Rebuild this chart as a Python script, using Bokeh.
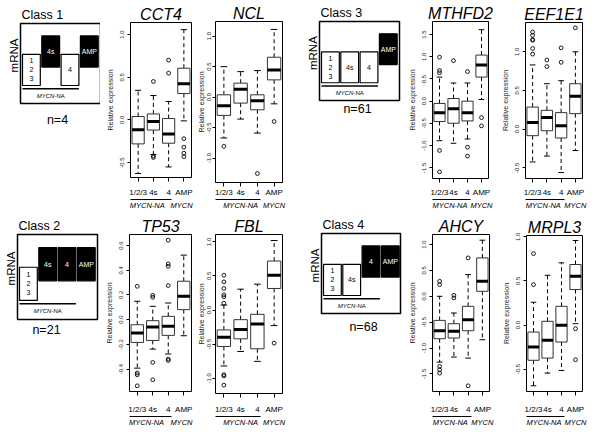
import math
from bokeh.plotting import figure
from bokeh.layouts import row, column
from bokeh.models import Range1d, FixedTicker, PrintfTickFormatter, LinearAxis
from bokeh.core.properties import value
from bokeh.embed import file_html
from bokeh.resources import INLINE

FONT = "Liberation Sans"

# ---------------- data ----------------
GROUPS = ["1/2/3", "4s", "4", "AMP"]
GROUP_X = [1, 2, 3, 4]

CLASS_NAMES = ["Class 1", "Class 2", "Class 3", "Class 4"]
CLASS_N = [4, 21, 61, 68]
CLASS_LEVELS = [[0, 1, 0, 1], [0, 1, 1, 1], [0, 0, 0, 1], [0, 0, 1, 1]]

CCT4_LO = [-0.628, -0.405, -0.551, -0.011]
CCT4_Q1 = [-0.281, -0.119, -0.273, 0.309]
CCT4_MED = [-0.116, -0.019, -0.165, 0.425]
CCT4_Q3 = [0.040, 0.070, 0.016, 0.606]
CCT4_HI = [0.347, 0.286, 0.216, 1.058]
CCT4_OUT = [[], [0.451, -0.425, -0.44], [0.70, 0.548], [-0.22, -0.32, -0.39, -0.43]]

NCL_LO = [-0.67, -0.36, -0.59, -0.11]
NCL_Q1 = [-0.30, -0.098, -0.208, 0.283]
NCL_MED = [-0.142, 0.13, -0.06, 0.446]
NCL_Q3 = [0.038, 0.229, 0.038, 0.654]
NCL_HI = [0.50, 0.418, 0.435, 1.11]
NCL_OUT = [[-0.807], [], [-1.253], [-0.40]]

MTHFD2_LO = [-0.889, -0.947, -0.851, 0.038]
MTHFD2_Q1 = [-0.458, -0.496, -0.444, 0.542]
MTHFD2_MED = [-0.258, -0.169, -0.258, 0.816]
MTHFD2_Q3 = [-0.051, 0.06, 0.0, 1.038]
MTHFD2_HI = [0.542, 0.409, 0.409, 1.609]
MTHFD2_OUT = [[0.99, 0.69, 0.64, -1.11, -1.59], [0.911], [0.667, -1.036, -1.236], [-0.369, -0.556]]

EEF1E1_LO = [-0.425, -0.349, -0.562, -0.277]
EEF1E1_Q1 = [-0.085, -0.021, -0.115, 0.20]
EEF1E1_MED = [0.085, 0.149, 0.043, 0.425]
EEF1E1_Q3 = [0.285, 0.243, 0.213, 0.587]
EEF1E1_HI = [0.83, 0.587, 0.626, 1.0]
EEF1E1_OUT = [[1.255, 1.213, 1.158, 1.149, 1.043, 0.97], [0.894, 0.809], [1.051, 0.864], [1.311]]

TP53_LO = [-0.392, -0.238, -0.278, -0.13]
TP53_Q1 = [-0.184, -0.168, -0.127, 0.081]
TP53_MED = [-0.108, -0.059, -0.054, 0.189]
TP53_Q3 = [-0.041, -0.008, 0.027, 0.311]
TP53_HI = [0.149, 0.108, 0.135, 0.522]
TP53_OUT = [[0.27, -0.432, -0.446, -0.535], [0.197, 0.181, -0.346, -0.486],
            [0.643, 0.451, 0.432, 0.276, -0.319, -0.33], []]

FBL_LO = [-0.82, -0.607, -0.752, -0.228]
FBL_Q1 = [-0.534, -0.422, -0.568, 0.316]
FBL_MED = [-0.398, -0.286, -0.204, 0.51]
FBL_Q3 = [-0.291, -0.141, -0.063, 0.718]
FBL_HI = [0.073, 0.306, 0.379, 1.019]
FBL_OUT = [[0.51, 0.413, 0.316, 0.223, 0.194, 0.10, -0.947, -0.966, -1.10], [], [], [-0.485]]

AHCY_LO = [-1.271, -1.174, -1.194, -0.839]
AHCY_Q1 = [-0.819, -0.806, -0.665, 0.097]
AHCY_MED = [-0.665, -0.677, -0.452, 0.29]
AHCY_Q3 = [-0.465, -0.529, -0.194, 0.742]
AHCY_HI = [0.0, -0.323, 0.419, 1.084]
AHCY_OUT = [[0.29, 0.226, -1.355, -1.419, -1.484], [0.019, -0.032], [0.742, -1.729], []]

MRPL3_LO = [-0.689, -0.545, -0.515, 0.015]
MRPL3_Q1 = [-0.40, -0.375, -0.193, 0.402]
MRPL3_MED = [-0.25, -0.174, -0.004, 0.553]
MRPL3_Q3 = [-0.08, 0.042, 0.212, 0.686]
MRPL3_HI = [0.258, 0.564, 0.705, 0.958]
MRPL3_OUT = [[0.81, 0.458], [], [], [-0.042, -0.394]]

# y axis limits and tick values
CCT4_YLIM = (-0.675, 1.142)
NCL_YLIM = (-1.40, 1.24)
MTHFD2_YLIM = (-1.74, 1.793)
EEF1E1_YLIM = (-0.639, 1.379)
TP53_YLIM = (-0.581, 0.689)
FBL_YLIM = (-1.223, 1.107)
AHCY_YLIM = (-1.839, 1.194)
MRPL3_YLIM = (-0.754, 1.015)

TICKS_A = [-0.5, 0.0, 0.5, 1.0]
TICKS_B = [-1.0, -0.5, 0.0, 0.5, 1.0]
TICKS_C = [-1.5, -1.0, -0.5, 0.0, 0.5, 1.0, 1.5]
TICKS_D = [-0.6, -0.4, -0.2, 0.0, 0.2, 0.4, 0.6]
TICKS_E = [-1.5, -1.0, -0.5, 0.0, 0.5, 1.0]

# ---------------- layout (page pixel coordinates) ----------------
TOP_ROW = dict(top=0, bottom=212, l1=193.5)
BOT_ROW = dict(top=212, bottom=430, l1=408.5)
NA_NARROW, NA_MID, NA_WIDE = 1.6, 1.75, 2.0


def styled(fig):
    fig.grid.visible = False
    fig.outline_line_color = None
    fig.background_fill_color = "white"
    fig.border_fill_color = "white"
    return fig


def txt(fig, x, y, s, size, align="center", color="black", style="normal",
        angle=0.0, baseline="middle", x_offset=0):
    fig.text(x=[x], y=[y], text=[s], text_font=value(FONT), text_font_size=size,
             text_align=align, text_baseline=baseline, text_color=color,
             text_font_style=style, angle=angle, x_offset=x_offset)


def diagram(idx, fx0, fx1, rowg, box, n_pos):
    bx, by, bw, bh = box
    d = figure(width=fx1 - fx0, height=rowg["bottom"] - rowg["top"],
               x_range=Range1d(fx0, fx1), y_range=Range1d(rowg["bottom"], rowg["top"]),
               x_axis_location=None, y_axis_location=None, toolbar_location=None,
               output_backend="svg", min_border_left=0, min_border_right=0,
               min_border_top=0, min_border_bottom=0)
    styled(d)
    txt(d, bx + 1, by - 9, CLASS_NAMES[idx], "12.5px", align="left")
    txt(d, bx - 7, by + bh * 0.4, "mRNA", "11.5px", angle=math.pi / 2)
    d.quad(left=[bx], right=[bx + bw], top=[by], bottom=[by + bh],
           fill_color=None, line_color="black", line_width=1.5)
    pitch, bwid = 19.3, 17.8
    for i, lev in enumerate(CLASS_LEVELS[idx]):
        left = bx + 2 + i * pitch
        top = by + (0.155 if lev else 0.385) * bh
        bot = top + 0.39 * bh
        d.quad(left=[left], right=[left + bwid], top=[top], bottom=[bot],
               fill_color="black" if lev else "white", line_color="black", line_width=1.2)
        tc = "#ffffff" if lev else "#000000"
        cx, cy = left + bwid / 2, (top + bot) / 2
        parts = GROUPS[i].split("/")
        if len(parts) > 1:
            for k, s in enumerate(parts):
                txt(d, cx, cy + (k - 1) * 9, s, "7px", color=tc)
        else:
            txt(d, cx, cy, GROUPS[i], "7px", color=tc)
    lx0 = bx + 2
    lx1 = bx + 2 + 2 * pitch + bwid
    ly = by + 0.815 * bh
    d.segment(x0=[lx0], x1=[lx1], y0=[ly], y1=[ly], line_color="black", line_width=1.5)
    mx = (lx0 + lx1) / 2
    txt(d, mx, by + 0.9 * bh, "MYCN", "6px", align="right", style="italic", x_offset=3.7)
    txt(d, mx, by + 0.9 * bh, "-NA", "6px", align="left", x_offset=3.7)
    txt(d, n_pos[0], n_pos[1], "n=%d" % CLASS_N[idx], "12.5px")
    return column(d, spacing=0)


def add_x_axes(p, ppu, fb, rowg, na_c, amp_x):
    # 1) ticks and group labels
    std = max(0, int(round(rowg["l1"] - fb - 4 - 4.5)))
    a1 = LinearAxis(ticker=FixedTicker(ticks=GROUP_X),
                    major_label_overrides=dict(zip(GROUP_X, GROUPS)))
    a1.axis_line_color = None
    a1.major_tick_out = 4
    a1.major_tick_in = 0
    a1.minor_tick_line_color = None
    a1.major_label_standoff = std
    a1.major_label_text_font = FONT
    a1.major_label_text_font_size = "8px"
    a1.major_label_text_color = "black"
    p.add_layout(a1, "below")
    # 2) the line under 1/2/3 4s 4
    a2 = LinearAxis(ticker=FixedTicker(ticks=[]), bounds=(1 - 9.5 / ppu, 3 + 3.0 / ppu))
    a2.major_tick_out = 0
    a2.major_tick_in = 0
    a2.minor_tick_out = 0
    a2.minor_tick_in = 0
    a2.major_tick_line_color = None
    a2.minor_tick_line_color = None
    a2.major_label_standoff = 0
    a2.major_label_text_font_size = "1px"
    a2.axis_line_color = "black"
    a2.axis_line_width = 1
    p.add_layout(a2, "below")
    # 3) MYCN-NA / MYCN
    a3 = LinearAxis(ticker=FixedTicker(ticks=[na_c, amp_x]),
                    major_label_overrides={na_c: "MYCN-NA", amp_x: "MYCN"})
    a3.axis_line_color = None
    a3.major_tick_out = 0
    a3.major_tick_in = 0
    a3.major_tick_line_color = None
    a3.minor_tick_line_color = None
    a3.major_label_standoff = 1
    a3.major_label_text_font = FONT
    a3.major_label_text_font_size = "7.5px"
    a3.major_label_text_font_style = "italic"
    a3.major_label_text_color = "black"
    p.add_layout(a3, "below")


def box_panel(gene, stats, ylim, ticks, xgeo, ygeo, rowg, compact, na_c, amp_x):
    lo, q1, med, q3, hi, outs = stats
    fl, frl, frr, fr = xgeo
    ft, fb = ygeo
    W = fr - fl
    L = frl - fl
    R = fr - frr
    H = rowg["bottom"] - rowg["top"]
    p = figure(width=W, height=H, x_range=Range1d(0.5, 4.5), y_range=Range1d(*ylim),
               title=gene, toolbar_location=None, output_backend="svg",
               x_axis_location=None, min_border_left=L, min_border_right=R,
               min_border_top=ft - rowg["top"], min_border_bottom=rowg["bottom"] - fb)
    p.grid.visible = False
    p.outline_line_color = "black"
    p.outline_line_width = 1
    p.title.text_font = FONT
    p.title.text_font_style = "italic"
    p.title.text_font_size = "16px"
    p.title.align = "center"
    p.title.standoff = 0
    p.title.text_color = "black"
    ax = p.yaxis[0]
    ax.ticker = FixedTicker(ticks=ticks)
    ax.formatter = PrintfTickFormatter(format="%.1f")
    ax.minor_tick_line_color = None
    ax.axis_line_color = None
    ax.major_tick_in = 0
    ax.major_tick_out = 3
    ax.major_label_orientation = "vertical"
    ax.major_label_text_font = FONT
    ax.major_label_text_font_size = "6px"
    ax.major_label_text_color = "#222222"
    ax.major_label_standoff = 1 if compact else 3
    ax.axis_label = "Relative expression"
    ax.axis_label_text_font = FONT
    ax.axis_label_text_font_size = "7px"
    ax.axis_label_text_font_style = "normal"
    ax.axis_label_text_color = "#222222"
    ax.axis_label_standoff = 0 if compact else 4

    ppu = (frr - frl) / 4.0
    add_x_axes(p, ppu, fb, rowg, na_c, amp_x)

    bw = 0.4
    left = [x - bw for x in GROUP_X]
    right = [x + bw for x in GROUP_X]
    p.segment(x0=GROUP_X, x1=GROUP_X, y0=q3, y1=hi, line_color="black",
              line_width=1, line_dash="4 3")
    p.segment(x0=GROUP_X, x1=GROUP_X, y0=q1, y1=lo, line_color="black",
              line_width=1, line_dash="4 3")
    sl = [x - bw / 2 for x in GROUP_X]
    sr = [x + bw / 2 for x in GROUP_X]
    p.segment(x0=sl, x1=sr, y0=hi, y1=hi, line_color="black", line_width=1)
    p.segment(x0=sl, x1=sr, y0=lo, y1=lo, line_color="black", line_width=1)
    p.quad(left=left, right=right, bottom=q1, top=q3, fill_color="white",
           line_color="#333333", line_width=1)
    p.segment(x0=left, x1=right, y0=med, y1=med, line_color="black", line_width=3)
    ox, oy = [], []
    for x, vals in zip(GROUP_X, outs):
        for v in vals:
            ox.append(x)
            oy.append(v)
    p.scatter(x=ox, y=oy, marker="circle", size=3.8, fill_color=None,
              line_color="black", line_width=0.9)
    # wrap so that sibling plots do not get their frames aligned
    return column(p, spacing=0)


d1 = diagram(0, 0, 100, TOP_ROW, (20, 23, 80, 80), (57, 119))
cct4 = box_panel("CCT4", (CCT4_LO, CCT4_Q1, CCT4_MED, CCT4_Q3, CCT4_HI, CCT4_OUT),
                 CCT4_YLIM, TICKS_A, (100, 130, 191, 194), (22, 179), TOP_ROW, False,
                 NA_NARROW, 3.85)
ncl = box_panel("NCL", (NCL_LO, NCL_Q1, NCL_MED, NCL_Q3, NCL_HI, NCL_OUT),
                NCL_YLIM, TICKS_B, (194, 212, 282, 290), (21, 184), TOP_ROW, True,
                NA_WIDE, 4.0)
d3 = diagram(2, 290, 402, TOP_ROW, (319, 21, 80, 79), (357, 108))
mthfd2 = box_panel("MTHFD2", (MTHFD2_LO, MTHFD2_Q1, MTHFD2_MED, MTHFD2_Q3, MTHFD2_HI, MTHFD2_OUT),
                   MTHFD2_YLIM, TICKS_C, (402, 432, 488, 497), (21, 180), TOP_ROW, False,
                   NA_MID, 4.0)
eef1e1 = box_panel("EEF1E1", (EEF1E1_LO, EEF1E1_Q1, EEF1E1_MED, EEF1E1_Q3, EEF1E1_HI, EEF1E1_OUT),
                   EEF1E1_YLIM, TICKS_A, (497, 525, 582, 600), (22, 180), TOP_ROW, False,
                   NA_MID, 4.0)

d2 = diagram(1, 0, 100, BOT_ROW, (17, 234, 80, 85), (46, 329))
tp53 = box_panel("TP53", (TP53_LO, TP53_Q1, TP53_MED, TP53_Q3, TP53_HI, TP53_OUT),
                 TP53_YLIM, TICKS_D, (100, 129, 191, 194), (234, 391), BOT_ROW, False,
                 NA_NARROW, 3.85)
fbl = box_panel("FBL", (FBL_LO, FBL_Q1, FBL_MED, FBL_Q3, FBL_HI, FBL_OUT),
                FBL_YLIM, TICKS_B, (194, 212, 282, 290), (234, 393), BOT_ROW, True,
                NA_WIDE, 4.0)
d4 = diagram(3, 290, 402, BOT_ROW, (321, 233, 79, 80), (363, 326))
ahcy = box_panel("AHCY", (AHCY_LO, AHCY_Q1, AHCY_MED, AHCY_Q3, AHCY_HI, AHCY_OUT),
                 AHCY_YLIM, TICKS_E, (402, 432, 489, 497), (234, 391), BOT_ROW, False,
                 NA_MID, 4.0)
mrpl3 = box_panel("MRPL3", (MRPL3_LO, MRPL3_Q1, MRPL3_MED, MRPL3_Q3, MRPL3_HI, MRPL3_OUT),
                  MRPL3_YLIM, TICKS_A, (497, 526, 582, 600), (235, 391), BOT_ROW, False,
                  NA_MID, 4.0)

layout = column(row(d1, cct4, ncl, d3, mthfd2, eef1e1, spacing=0),
                row(d2, tp53, fbl, d4, ahcy, mrpl3, spacing=0), spacing=0)

open("out.html", "w").write(file_html(layout, INLINE))
